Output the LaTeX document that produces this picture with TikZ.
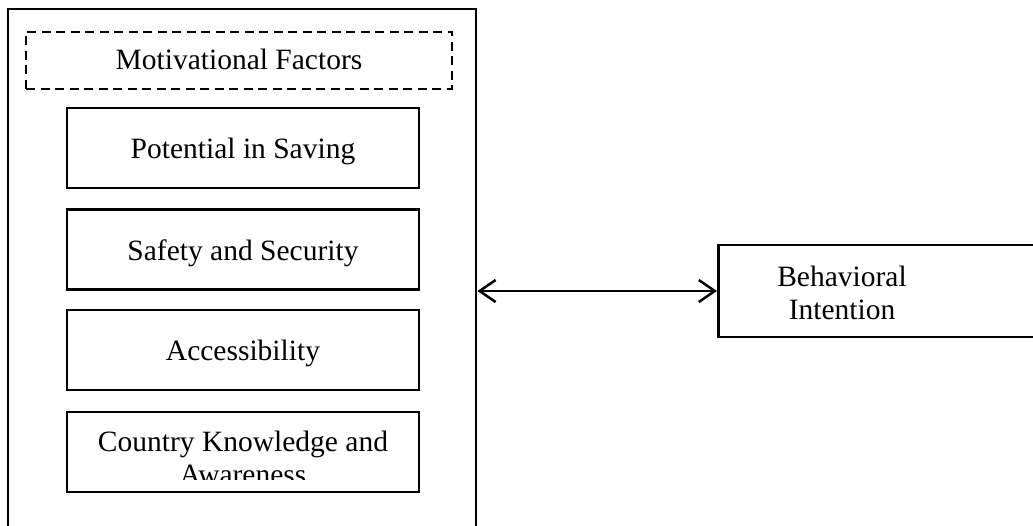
\documentclass[tikz,border=0pt]{standalone}
\usepackage{fontspec}
\setmainfont{Liberation Serif}
\usetikzlibrary{arrows.meta}
\tikzset{
  every node/.style={font=\fontsize{29.5}{33}\selectfont, align=center, inner sep=0pt},
  fbox/.style={draw, line width=2.8pt, rectangle, minimum width=352pt, minimum height=80pt, text height=24pt, text depth=2pt},
  dbox/.style={draw, line width=2.8pt, rectangle, dash pattern=on 9pt off 5.5pt, minimum width=426pt, minimum height=57pt, text height=21pt, text depth=2pt},
  obox/.style={draw, line width=2.8pt, rectangle, minimum width=468pt, minimum height=540pt},
  bbox/.style={draw, line width=2.8pt, rectangle, minimum width=330pt, minimum height=92pt},
  biarrow/.style={line width=2.5pt, {Straight Barb[length=16pt,width=22pt,line width=2.5pt]}-{Straight Barb[length=16pt,width=22pt,line width=2.5pt]}}
}
\begin{document}
\begin{tikzpicture}[x=1pt,y=-1pt]
\useasboundingbox (0,0) rectangle (1033,526);
\node[obox] (outer) at (242,279) {};
\node[dbox] (mf) at (239,60.5) {Motivational Factors};
\node[fbox] (pot) at (243,148) {Potential in Saving};
\node[fbox] (saf) at (243,249.5) {Safety and Security};
\node[fbox] (acc) at (243,350) {Accessibility};
\node[fbox] (ckb) at (243,452) {};
\begin{scope}
  \clip (70,414) rectangle (416,479.5);
  \node (ckt) at (243,458) {Country Knowledge and\\Awareness};
\end{scope}
\node[bbox, anchor=west] (bi) at (717,291) {};
\node (bit) at (842,293) {Behavioral\\Intention};
\draw[biarrow] (outer.east |- bi.west) -- (bi.west);
\end{tikzpicture}
\end{document}
